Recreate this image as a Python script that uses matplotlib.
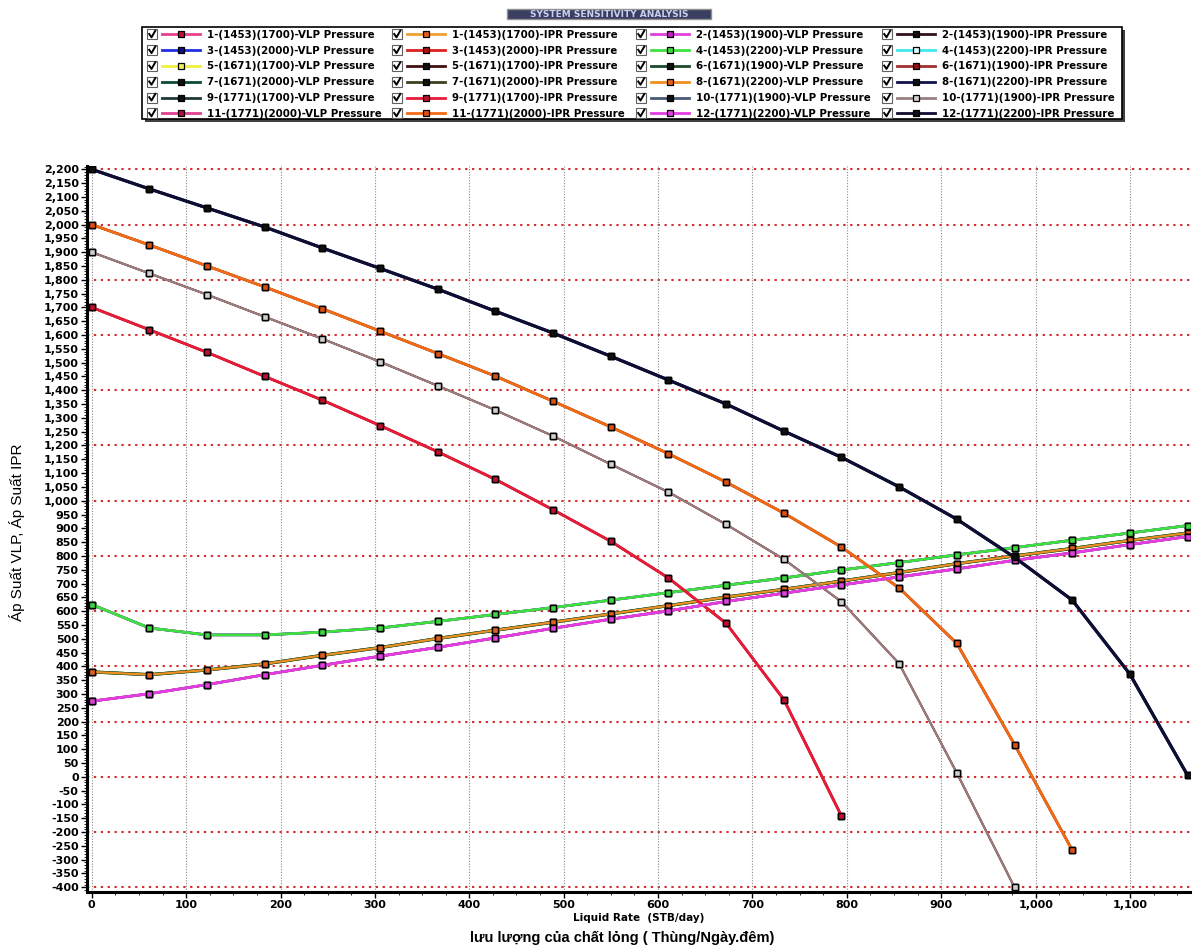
import matplotlib
matplotlib.use("Agg")
import matplotlib.pyplot as plt
from matplotlib.patches import Rectangle
from matplotlib.ticker import MultipleLocator, FuncFormatter

# ---------------- data ----------------
rate = [0, 61.1, 122.2, 183.3, 244.4, 305.5, 366.6, 427.7, 488.8, 549.9,
        611.0, 672.1, 733.2, 794.3, 855.4, 916.5, 977.6, 1038.7, 1099.8, 1160.9]

ipr_1700 = [1700, 1619, 1537, 1450, 1364, 1272, 1177, 1077, 967, 853,
            720, 556, 280, -142]
ipr_1900 = [1900, 1823, 1746, 1666, 1586, 1503, 1416, 1328, 1234, 1132,
            1031, 914, 788, 634, 410, 14, -400]
ipr_2000 = [2000, 1926, 1850, 1774, 1695, 1614, 1533, 1451, 1360, 1267,
            1170, 1067, 955, 832, 684, 483, 117, -265]
ipr_2200 = [2200, 2129, 2060, 1991, 1915, 1841, 1766, 1686, 1607, 1523,
            1437, 1350, 1252, 1157, 1050, 933, 795, 640, 372, 6]

vlp_1453 = [624, 539, 514, 514, 524, 539, 563, 588, 613, 640,
            667, 694, 720, 749, 776, 804, 830, 857, 883, 910]
vlp_1671 = [380, 370, 387, 409, 440, 468, 501, 531, 560, 590,
            620, 651, 679, 709, 740, 772, 800, 827, 856, 883]
vlp_1771 = [274, 301, 334, 370, 404, 437, 469, 503, 538, 571,
            601, 635, 665, 695, 724, 753, 784, 811, 841, 870]

first_params = ["1453", "1671", "1771"]
second_params = ["1700", "1900", "2000", "2200"]
vlp_curves = [vlp_1453, vlp_1671, vlp_1771]
ipr_curves = [ipr_1700, ipr_1900, ipr_2000, ipr_2200]

# colours: (line, marker face, line width)
vlp_styles = [
    ("#e8408c", "#c0103c", 1.8), ("#e040e0", "#c020c0", 1.8),
    ("#2030e0", "#101080", 1.8), ("#3ee03e", "#40d840", 2.0),
    ("#f0f040", "#f0f060", 2.2), ("#1c4a2a", "#101010", 2.2),
    ("#0c4a3a", "#101010", 2.2), ("#f09020", "#e06020", 1.6),
    ("#203838", "#101010", 1.8), ("#485a78", "#101010", 1.8),
    ("#e04090", "#b01040", 1.8), ("#e23ce2", "#e040e0", 2.0),
]
ipr_styles = [
    ("#f0a030", "#e06020", 1.8), ("#301020", "#101010", 1.4),
    ("#e02020", "#b01010", 1.8), ("#40e8f0", "#e0ffff", 2.2),
    ("#401010", "#101010", 1.8), ("#a03030", "#901010", 1.4),
    ("#404020", "#101010", 1.8), ("#101050", "#101010", 2.2),
    ("#ea1a3c", "#c01030", 2.0), ("#968080", "#d0d0d0", 1.4),
    ("#f26a14", "#e05010", 2.0), ("#120c30", "#101010", 2.2),
]

# ---------------- figure ----------------
W, H = 1197, 950
fig = plt.figure(figsize=(W / 100, H / 100), dpi=100)
ax = fig.add_axes([87 / W, 1 - 892 / H, (1190 - 87) / W, (892 - 166) / H])

ax.set_xlim(-5, 1163.5)
ax.set_ylim(-417, 2212)

for y in range(-400, 2201, 200):
    ax.axhline(y, color="#d43030", lw=1.5, ls=(0, (1.1, 2.2)), zorder=0.5)

ax.xaxis.set_major_locator(MultipleLocator(100))
ax.xaxis.set_minor_locator(MultipleLocator(25))
ax.yaxis.set_major_locator(MultipleLocator(50))
ax.yaxis.set_minor_locator(MultipleLocator(10))
ax.xaxis.grid(True, which="major", color="#8a8a8a", lw=0.8, ls=(0, (1, 1.5)), zorder=0.4)
ax.set_axisbelow(True)

fmt = FuncFormatter(lambda v, p: "{:,.0f}".format(v))
ax.xaxis.set_major_formatter(fmt)
ax.yaxis.set_major_formatter(fmt)
ax.tick_params(axis="both", which="major", length=4, width=1, labelsize=8, pad=2)
ax.tick_params(axis="both", which="minor", length=2, width=0.6)
for lab in ax.get_xticklabels() + ax.get_yticklabels():
    lab.set_fontweight("bold")

for s in ["top", "right"]:
    ax.spines[s].set_visible(False)
for s in ["left", "bottom"]:
    ax.spines[s].set_linewidth(2.2)

entries = []
z = 2
for k in range(12):
    g = k // 4
    p = k % 4
    vx = rate[:len(vlp_curves[g])]
    lc, mc, lw = vlp_styles[k]
    ax.plot(vx, vlp_curves[g], color=lc, lw=lw, marker="s", ms=5,
            mfc=mc, mec="black", mew=1.0, zorder=z)
    z += 0.01
    entries.append(("%d-(%s)(%s)-VLP Pressure" % (k + 1, first_params[g], second_params[p]), lc, mc))
    ix = rate[:len(ipr_curves[p])]
    lc, mc, lw = ipr_styles[k]
    ax.plot(ix, ipr_curves[p], color=lc, lw=lw, marker="s", ms=5,
            mfc=mc, mec="black", mew=1.0, zorder=z)
    z += 0.01
    entries.append(("%d-(%s)(%s)-IPR Pressure" % (k + 1, first_params[g], second_params[p]), lc, mc))

# ---------------- labels ----------------
fig.text(639 / W, 1 - 918 / H, "Liquid Rate  (STB/day)", ha="center", va="center",
         fontsize=7.5, fontweight="bold", family="DejaVu Sans")
fig.text(622 / W, 1 - 938 / H, "lưu lượng của chất lỏng ( Thùng/Ngày.đêm)",
         ha="center", va="center", fontsize=10.5, fontweight="bold",
         family=["Liberation Sans", "DejaVu Sans"])
fig.text(17 / W, 1 - 532 / H, "Áp Suất VLP, Áp Suất IPR", ha="center", va="center",
         rotation=90, fontsize=11, family=["Liberation Sans", "DejaVu Sans"])

# ---------------- legend (pixel overlay) ----------------
lax = fig.add_axes([0, 0, 1, 1])
lax.set_xlim(0, W)
lax.set_ylim(H, 0)
lax.axis("off")

# title box
lax.add_patch(Rectangle((507, 9), 204, 10, facecolor="#3a3e60", edgecolor="#909090", lw=1))
lax.text(609, 14.3, "SYSTEM SENSITIVITY ANALYSIS", ha="center", va="center",
         fontsize=6.5, fontweight="bold", color="#c8d0f0", family="DejaVu Sans")

# legend frame with shadow
lax.add_patch(Rectangle((145, 30), 980, 92, facecolor="#404040", edgecolor="none"))
lax.add_patch(Rectangle((142, 27), 980, 92, facecolor="white", edgecolor="black", lw=1.2))

col_x = [147, 392, 636, 882]
row_y0, row_dy = 34.3, 15.8
for i, (label, lc, mc) in enumerate(entries):
    r, c = divmod(i, 4)
    x = col_x[c]
    y = row_y0 + r * row_dy
    lax.add_patch(Rectangle((x, y - 5), 10, 10, facecolor="white", edgecolor="#606060", lw=0.8))
    lax.plot([x + 2.2, x + 4.5, x + 8.3], [y - 0.3, y + 3, y - 3.6], color="black", lw=1.4)
    lax.plot([x + 15, x + 53], [y, y], color=lc, lw=2)
    lax.plot([x + 34], [y], marker="s", ms=4.5, mfc=mc, mec="black", mew=0.9)
    lax.text(x + 60, y + 0.5, label, ha="left", va="center", fontsize=7.4,
             fontweight="bold", family="DejaVu Sans")

fig.savefig("out.png", dpi=100)
